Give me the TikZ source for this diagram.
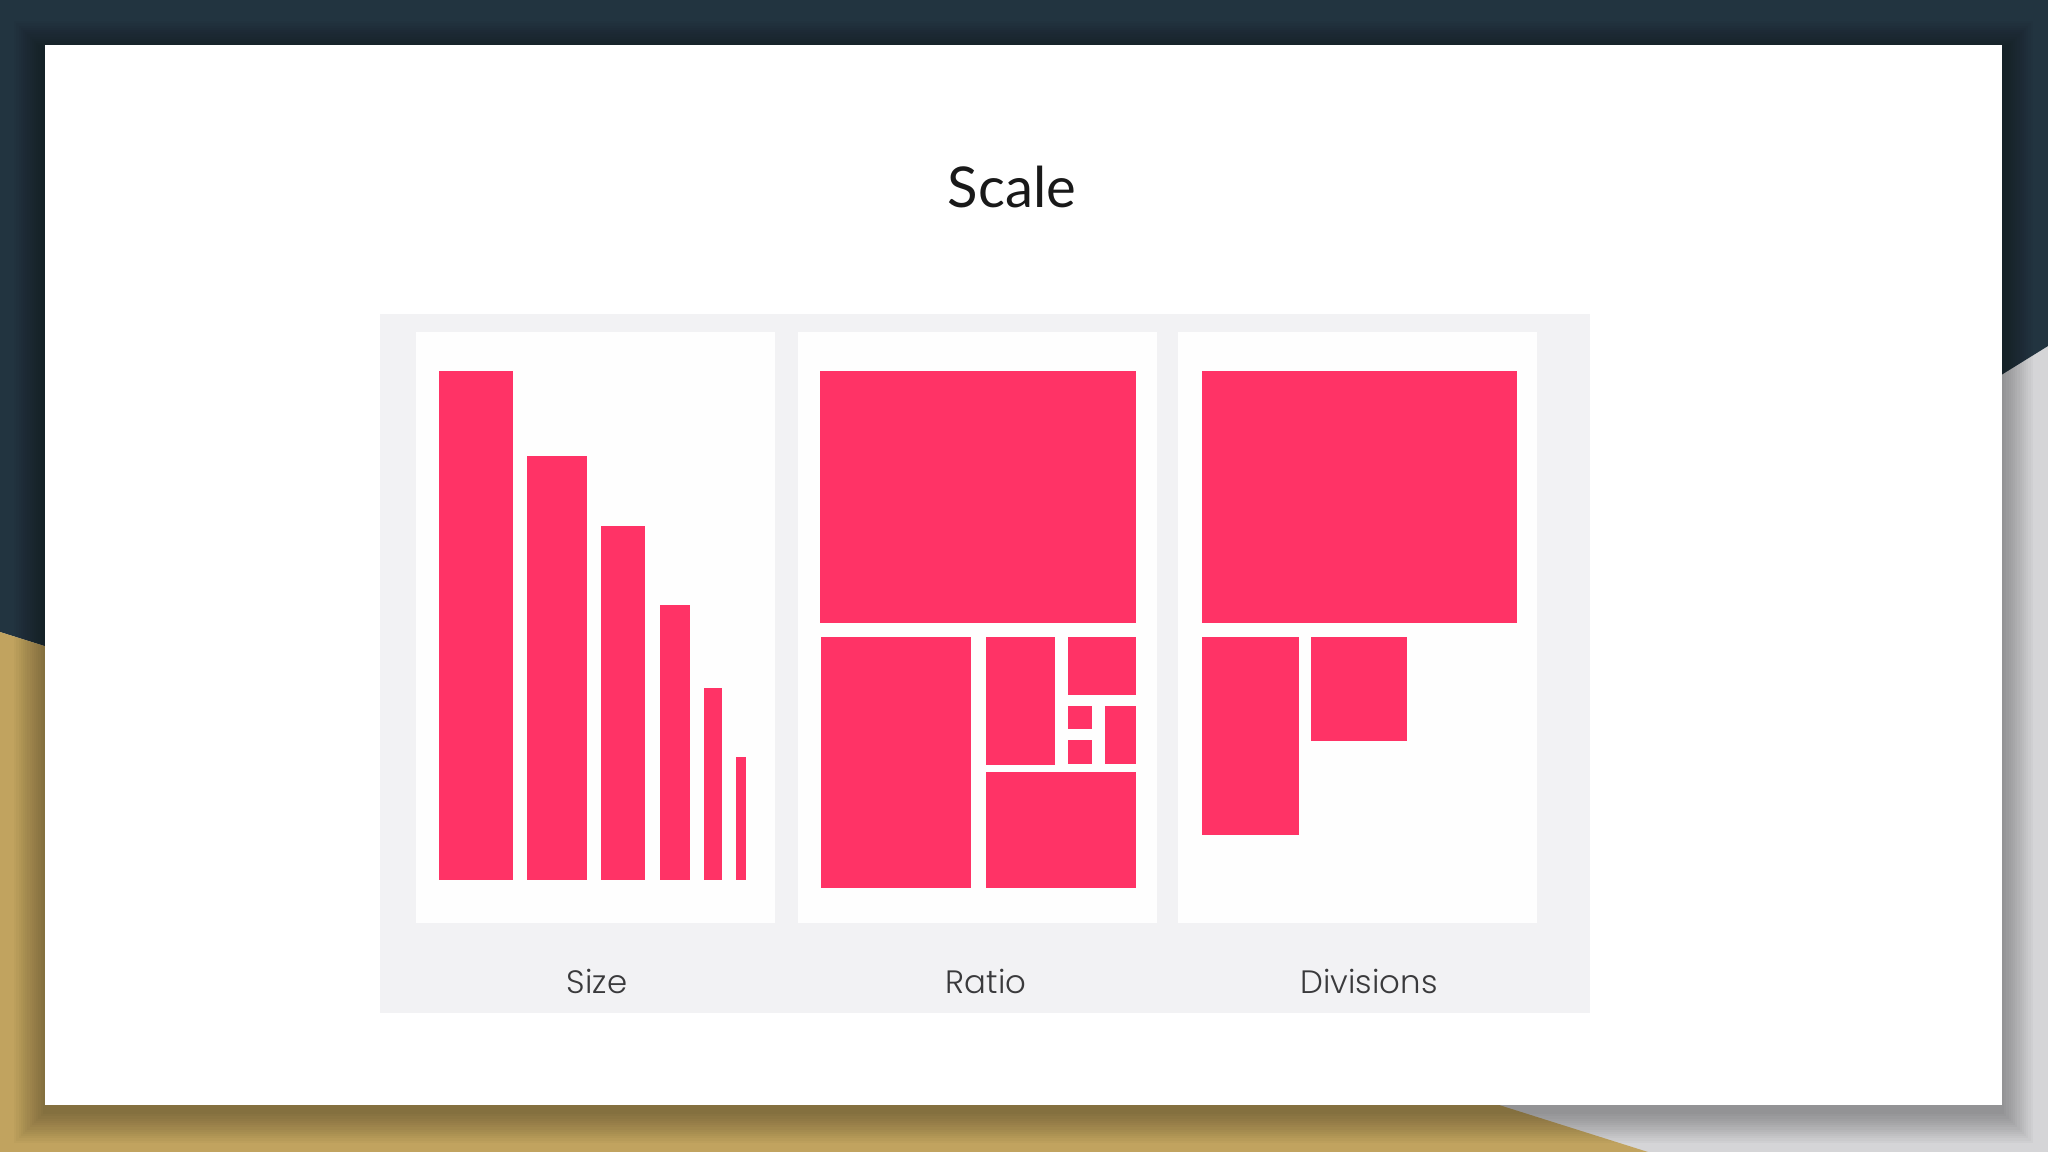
\documentclass[tikz,border=0pt]{standalone}
\usepackage{fontspec}
\setmainfont{Lato}
\newfontfamily\labelfont{Poppins}[UprightFont={* Light}]
\usepackage{tikz}
\definecolor{bg_navy}{RGB}{34,52,64}
\definecolor{bg_gold}{RGB}{193,163,95}
\definecolor{bg_grey}{RGB}{213,213,215}
\definecolor{panel_gray}{RGB}{242,242,244}
\definecolor{card_white}{RGB}{254,254,254}
\definecolor{bar_pink}{RGB}{255,51,102}
\definecolor{label_gray}{RGB}{58,58,60}

\begin{document}
\begin{tikzpicture}[x=0.01cm,y=-0.01cm]
    \tikzstyle{bar}=[fill=bar_pink]
    \tikzstyle{card}=[fill=card_white]
    \tikzstyle{label}=[text=label_gray, font=\labelfont\fontsize{9.2}{11}\selectfont]

    \useasboundingbox (0,0) rectangle (2048,1152);

    % background
    \fill[bg_grey] (0,0) rectangle (2048,1152);
    \fill[bg_navy] (0,0) -- (2048,0) -- (2048,346) -- (1053,963) -- (0,632) -- cycle;
    \fill[bg_gold] (0,632) -- (1648,1152) -- (0,1152) -- cycle;

    % slide with soft shadow
    \foreach \i in {1,...,14}
      \fill[black, opacity=0.022] (45-2.2*\i,45-2.2*\i+7) rectangle (2002+2.2*\i,1105+2.2*\i+7);
    \fill[white] (45,45) rectangle (2002,1105);

    \node[font=\fontsize{16}{20}\selectfont, text=black!90] (title) at (1012,187) {Scale};

    % panel and cards
    \fill[panel_gray] (380,314) rectangle (1590,1013);
    \fill[card] (416,332) rectangle (775,923);
    \fill[card] (798,332) rectangle (1157,923);
    \fill[card] (1178,332) rectangle (1537,923);

    % size
    \fill[bar] (439,371) rectangle (513,880);
    \fill[bar] (527,456) rectangle (587,880);
    \fill[bar] (601,526) rectangle (645,880);
    \fill[bar] (660,605) rectangle (690,880);
    \fill[bar] (704,688) rectangle (722,880);
    \fill[bar] (736,757) rectangle (746,880);

    % ratio
    \fill[bar] (820,371) rectangle (1136,623);
    \fill[bar] (821,637) rectangle (971,888);
    \fill[bar] (986,637) rectangle (1055,765);
    \fill[bar] (1068,637) rectangle (1136,695);
    \fill[bar] (1068,706) rectangle (1092,729);
    \fill[bar] (1068,740) rectangle (1092,764);
    \fill[bar] (1105,706) rectangle (1136,764);
    \fill[bar] (986,772) rectangle (1136,888);

    % divisions
    \fill[bar] (1202,371) rectangle (1517,623);
    \fill[bar] (1202,637) rectangle (1299,835);
    \fill[bar] (1311,637) rectangle (1407,741);

    \node[label] (lbl_size)  at (597,981)  {Size};
    \node[label] (lbl_ratio) at (986,981)  {Ratio};
    \node[label] (lbl_div)   at (1369,981) {Divisions};
\end{tikzpicture}
\end{document}
